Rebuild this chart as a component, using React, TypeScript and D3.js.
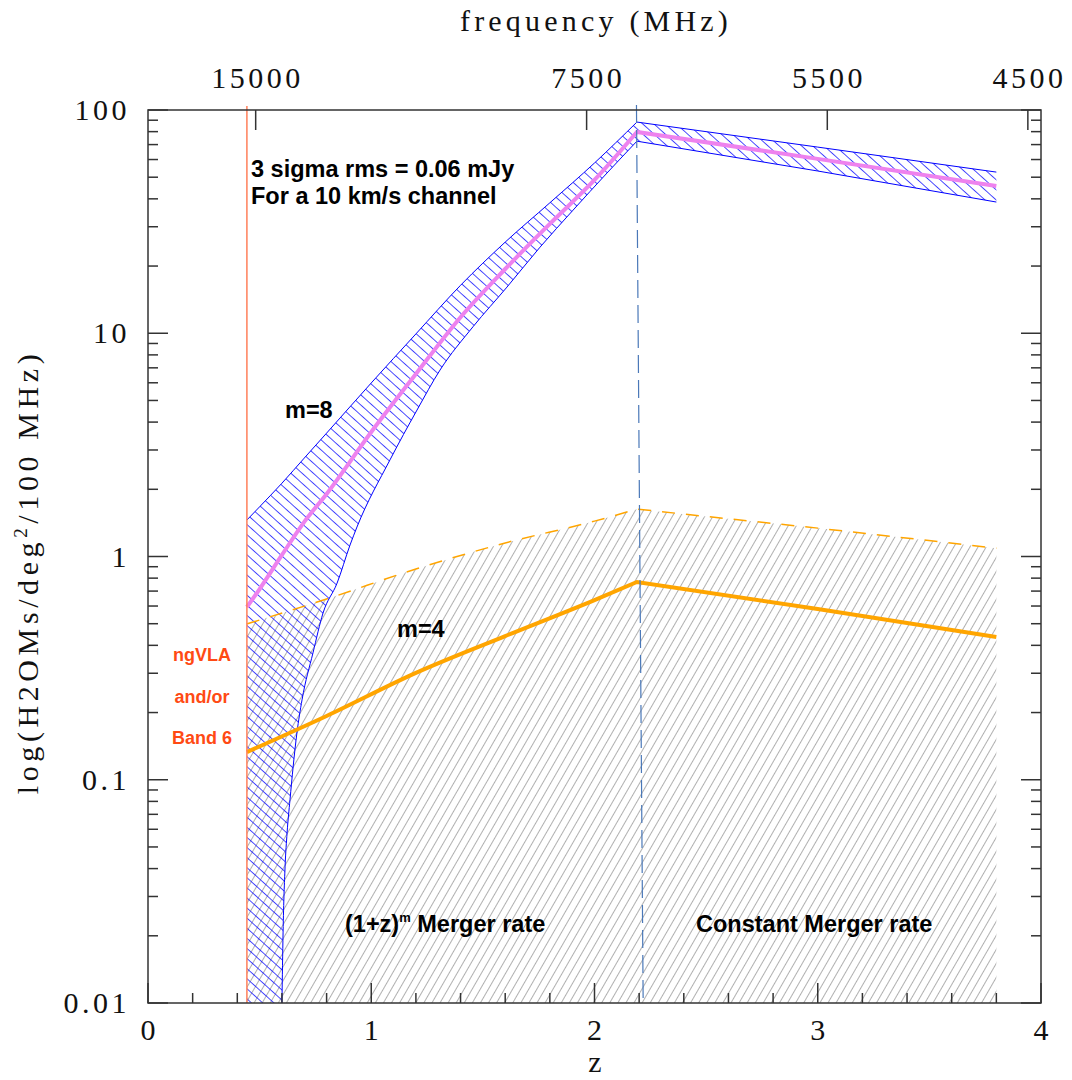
import * as d3 from "d3";

// H2O megamaser rest frequency, used for the top frequency axis
const REST_FREQ = 22235.08;

// m=8 band, (1+z)^m part
const zM8 = [0.443, 0.5, 0.6, 0.7, 0.8, 1.0, 1.2, 1.4, 1.6, 1.8, 2.0, 2.19];
const m8Mid = [0.594, 0.715, 1.016, 1.43, 1.905, 3.61, 6.57, 11.8, 19.4, 30.9, 48.6, 79.7];
const m8Upper = [1.457, 1.67, 2.13, 2.76, 3.57, 5.99, 9.93, 16.4, 25.6, 38.4, 57.9, 88.3];

// lower edge of the m=8 band (runs off the bottom below z~0.6)
const zM8Lower = [0.6, 0.605, 0.614, 0.623, 0.636, 0.65, 0.667, 0.69, 0.739, 0.784, 0.847, 0.905, 0.936, 1.084, 1.205, 1.308, 1.456, 1.608, 1.756, 1.904, 2.056, 2.19];
const m8Lower = [0.01, 0.0206, 0.0407, 0.0578, 0.0813, 0.114, 0.162, 0.228, 0.37, 0.558, 0.76, 1.126, 1.355, 2.71, 4.53, 6.84, 10.7, 16.1, 24.3, 35.6, 52.2, 72.5];

// m=8 band, constant merger rate part
const zConst = [2.19, 3.0, 3.8];
const m8ConstMid = [79.7, 60.4, 45.7];
const m8ConstUpper = [88.3, 68.2, 52.7];
const m8ConstLower = [72.5, 53.3, 38.7];

// m=4 line and the grey region upper limit ((1+z)^m part, then constant part)
const zM4 = [0.443, 0.8, 1.2, 1.6, 2.0, 2.19];
const m4Mid = [0.133, 0.193, 0.301, 0.44, 0.638, 0.769];
const m4Upper = [0.499, 0.645, 0.879, 1.15, 1.44, 1.63];
const m4ConstMid = [0.769, 0.582, 0.436];
const m4ConstUpper = [1.63, 1.34, 1.09];

const freqTicks = [15000, 7500, 5500, 4500];
const zLabelTicks = [0, 1, 2, 3, 4];
const yLabelTicks = [0.01, 0.1, 1, 10, 100];
const yLabelText = ["0.01", "0.1", "1", "10", "100"];

const bandStartZ = 0.443;
const breakTopZ = 2.188;
const breakBottomZ = 2.218;

const serif = "'Liberation Serif', 'Times New Roman', serif";
const sans = "'Liberation Sans', Arial, Helvetica, sans-serif";
const axisColor = "#333";

type Pt = [number, number];
const zip = (zs: number[], vs: number[]): Pt[] => zs.map((z, i) => [z, vs[i]]);
const asLineTo = (d: string | null) => (d ?? "").replace(/^M/, "L");

export default function App() {
  const x = d3.scaleLinear().domain([0, 4]).range([148, 1041]);
  const y = d3.scaleLog().domain([0.01, 100]).range([1003, 110]);
  const [x0, x1] = x.range();
  const [yb, yt] = y.range();

  const line = d3
    .line<Pt>()
    .x((d) => x(d[0]))
    .y((d) => y(d[1]));
  const smooth = d3
    .line<Pt>()
    .x((d) => x(d[0]))
    .y((d) => y(d[1]))
    .curve(d3.curveMonotoneX);

  const m8UpperPts = zip(zM8, m8Upper);
  const m8LowerPts = zip(zM8Lower, m8Lower);

  const leftBand =
    smooth(m8UpperPts) + asLineTo(smooth([...m8LowerPts].reverse())) + `L${x(bandStartZ)},${yb}Z`;
  const rightBand =
    line(zip(zConst, m8ConstUpper)) + asLineTo(line(zip(zConst, m8ConstLower).reverse())) + "Z";
  const greyTop = smooth(zip(zM4, m4Upper)) + asLineTo(line(zip(zConst, m4ConstUpper)));
  const greyArea = greyTop + `L${x(zConst[zConst.length - 1])},${yb}L${x(zM4[0])},${yb}Z`;
  const pinkPath = smooth(zip(zM8, m8Mid)) + asLineTo(line(zip(zConst, m8ConstMid)));
  const m4Path = smooth(zip(zM4, m4Mid)) + asLineTo(line(zip(zConst, m4ConstMid)));

  const yTicks = y.ticks();
  const isMajorY = (v: number) => Math.abs(Math.log10(v) - Math.round(Math.log10(v))) < 1e-6;
  const zTicks = x.ticks(20);
  const zOfFreq = (f: number) => REST_FREQ / f - 1;

  return (
    <div style={{ position: "absolute", left: 0, top: 0, background: "#fff" }}>
      <svg width={1072} height={1080} style={{ display: "block" }}>
        <defs>
          <pattern id="greyHatch" patternUnits="userSpaceOnUse" width={7} height={7} patternTransform="rotate(30)">
            <line x1={0} y1={0} x2={0} y2={7} stroke="#858585" strokeWidth={1.3} />
          </pattern>
          <pattern id="blueHatch" patternUnits="userSpaceOnUse" width={7.5} height={7.5} patternTransform="rotate(-48)">
            <line x1={0} y1={0} x2={0} y2={7.5} stroke="#0000ff" strokeWidth={1.4} />
          </pattern>
          <clipPath id="plotClip">
            <rect x={x0} y={yt} width={x1 - x0} height={yb - yt} />
          </clipPath>
        </defs>

        <rect x={0} y={0} width={1072} height={1080} fill="#fff" />

        <g clipPath="url(#plotClip)">
          <path d={greyArea} fill="url(#greyHatch)" />
          <path d={leftBand} fill="url(#blueHatch)" />
          <path d={rightBand} fill="url(#blueHatch)" />
          <g fill="none" stroke="#0000ff" strokeWidth={1}>
            <path d={smooth(m8UpperPts) ?? ""} />
            <path d={smooth(m8LowerPts) ?? ""} />
            <path d={line(zip(zConst, m8ConstUpper)) ?? ""} />
            <path d={line(zip(zConst, m8ConstLower)) ?? ""} />
          </g>
          <path d={greyTop} fill="none" stroke="#ffa500" strokeWidth={1.5} strokeDasharray="13 11" />
          <path d={m4Path} fill="none" stroke="#ffa500" strokeWidth={4} />
          <path d={pinkPath} fill="none" stroke="#ee82ee" strokeWidth={4} />
        </g>

        {/* band edge and merger-rate break */}
        <line x1={x(bandStartZ)} x2={x(bandStartZ)} y1={yt - 4} y2={yb} stroke="#ff7f5a" strokeWidth={1.5} />
        <line
          x1={x(breakTopZ)}
          x2={x(breakBottomZ)}
          y1={yt - 5}
          y2={yb}
          stroke="#4a78b8"
          strokeWidth={1.2}
          strokeDasharray="18 7"
        />

        {/* frame */}
        <rect x={x0} y={yt} width={x1 - x0} height={yb - yt} fill="none" stroke={axisColor} strokeWidth={1.5} />

        {/* ticks */}
        <g stroke={axisColor} strokeWidth={1.5}>
          {yTicks.map((v) => {
            const len = isMajorY(v) ? 20 : 10;
            return (
              <g key={"y" + v}>
                <line x1={x0} x2={x0 + len} y1={y(v)} y2={y(v)} />
                <line x1={x1} x2={x1 - len} y1={y(v)} y2={y(v)} />
              </g>
            );
          })}
          {zTicks.map((z) => {
            const len = Math.abs(z - Math.round(z)) < 1e-6 ? 20 : 10;
            return <line key={"z" + z} x1={x(z)} x2={x(z)} y1={yb} y2={yb - len} />;
          })}
          {freqTicks.map((f) => (
            <line key={"f" + f} x1={x(zOfFreq(f))} x2={x(zOfFreq(f))} y1={yt} y2={yt + 20} />
          ))}
        </g>

        {/* tick labels */}
        <g fontFamily={serif} fontSize={30} fill="#111" letterSpacing={3.5}>
          {yLabelTicks.map((v, i) => (
            <text key={"yl" + v} x={130} y={y(v) + 10} textAnchor="end">
              {yLabelText[i]}
            </text>
          ))}
          {zLabelTicks.map((z) => (
            <text key={"zl" + z} x={x(z) + 1.75} y={1040} textAnchor="middle">
              {z}
            </text>
          ))}
          {freqTicks.map((f) => (
            <text key={"fl" + f} x={x(zOfFreq(f)) + 1.75} y={88} textAnchor="middle">
              {f}
            </text>
          ))}
        </g>

        {/* axis titles */}
        <g fontFamily={serif} fontSize={30} fill="#111">
          <text x={596} y={31} textAnchor="middle" letterSpacing={4.2}>
            frequency (MHz)
          </text>
          <text x={595} y={1072} textAnchor="middle">
            z
          </text>
          <text transform="translate(38,572) rotate(-90)" textAnchor="middle" letterSpacing={4.6}>
            log(H2OMs/deg
            <tspan dy={-11} fontSize={19}>
              2
            </tspan>
            <tspan dy={11}>/100 MHz)</tspan>
          </text>
        </g>

        {/* annotations */}
        <g fontFamily={sans} fontWeight="bold" fontSize={23.5} fill="#000">
          <text x={251} y={177}>3 sigma rms = 0.06 mJy</text>
          <text x={251} y={204}>For a 10 km/s channel</text>
          <text x={285} y={418}>m=8</text>
          <text x={397} y={637}>m=4</text>
          <text x={345} y={932}>
            (1+z)
            <tspan dy={-10} fontSize={13}>
              m
            </tspan>
            <tspan dy={10}> Merger rate</tspan>
          </text>
          <text x={696} y={932}>Constant Merger rate</text>
        </g>
        <g fontFamily={sans} fontWeight="bold" fontSize={18} fill="#ff4a14" textAnchor="middle">
          <text x={202} y={661}>ngVLA</text>
          <text x={202} y={703}>and/or</text>
          <text x={202} y={744}>Band 6</text>
        </g>
      </svg>
    </div>
  );
}
